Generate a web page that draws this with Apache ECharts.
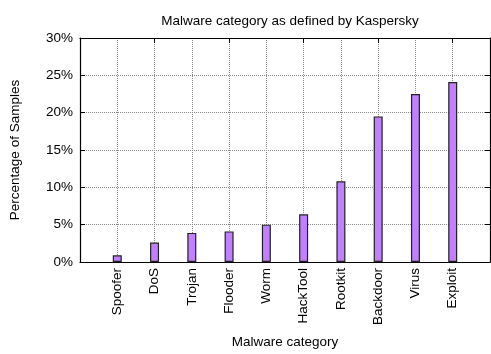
<!DOCTYPE html>
<html>
<head>
<meta charset="utf-8">
<script src="https://cdn.jsdelivr.net/npm/echarts@6/dist/echarts.min.js"></script>
<style>
  html, body { margin: 0; padding: 0; background: #fff; }
  #chart { width: 491px; height: 354px; }
</style>
</head>
<body>
<div id="chart"></div>
<script>
// Malware categories, sorted by share of samples
const categories = ['Spoofer', 'DoS', 'Trojan', 'Flooder', 'Worm', 'HackTool', 'Rootkit', 'Backdoor', 'Virus', 'Exploit'];
const percentages = [0.9, 2.6, 3.9, 4.1, 5.0, 6.4, 10.8, 19.5, 22.5, 24.1];
const yTicks = [0, 5, 10, 15, 20, 25, 30];

// One empty slot on each side keeps the bars away from the frame
const axisCats = [''].concat(categories, ['']);
const seriesData = [null].concat(percentages, [null]);

const FONT = 'Liberation Sans, Arial, sans-serif';
const gridLine = { show: true, lineStyle: { color: '#8a8a8a', type: [1, 1], width: 1 } };
const frame = { show: true, onZero: false, lineStyle: { color: '#000', width: 1.2 } };
const tick = { show: true, inside: true, length: 5, lineStyle: { color: '#000' } };

const chart = echarts.init(document.getElementById('chart'), null, { renderer: 'canvas' });
chart.setOption({
  animation: false,
  backgroundColor: '#fff',
  title: {
    text: 'Malware category as defined by Kaspersky',
    left: 285, top: 9, textAlign: 'center',
    textStyle: { fontFamily: FONT, fontSize: 13.5, fontWeight: 'normal', color: '#000' }
  },
  grid: { left: 80, right: 1, top: 38, bottom: 87, containLabel: false },
  xAxis: [{
    type: 'category',
    data: axisCats,
    boundaryGap: false,
    axisLine: frame,
    axisTick: tick,
    splitLine: gridLine,
    axisLabel: { rotate: 90, fontFamily: FONT, fontSize: 13.5, color: '#000', margin: 6, interval: 0 },
    name: 'Malware category',
    nameLocation: 'middle',
    nameGap: 73,
    nameTextStyle: { fontFamily: FONT, fontSize: 13.5, color: '#000' }
  }, {
    type: 'category',
    data: axisCats,
    boundaryGap: false,
    position: 'top',
    axisLine: frame,
    axisTick: tick,
    axisLabel: { show: false },
    splitLine: { show: false }
  }],
  yAxis: [{
    type: 'value',
    min: yTicks[0], max: yTicks[yTicks.length - 1], interval: 5,
    axisLine: frame,
    axisTick: tick,
    splitLine: gridLine,
    axisLabel: { fontFamily: FONT, fontSize: 13.5, color: '#000', margin: 7, formatter: v => v + '%' },
    name: 'Percentage of Samples',
    nameLocation: 'middle',
    nameGap: 58,
    nameTextStyle: { fontFamily: FONT, fontSize: 13.5, color: '#000' }
  }, {
    type: 'value',
    min: yTicks[0], max: yTicks[yTicks.length - 1], interval: 5,
    position: 'right',
    axisLine: frame,
    axisTick: tick,
    axisLabel: { show: false },
    splitLine: { show: false }
  }],
  series: [{
    type: 'bar',
    data: seriesData,
    barWidth: 9,
    itemStyle: { color: '#c080ff', borderColor: '#222', borderWidth: 1.2 }
  }]
});
</script>
</body>
</html>
